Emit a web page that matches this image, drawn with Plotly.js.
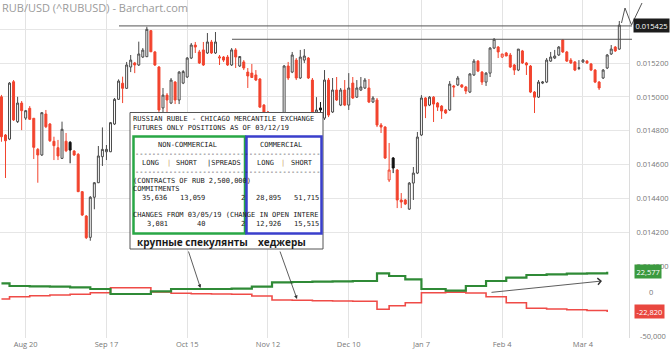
<!DOCTYPE html>
<html><head><meta charset="utf-8">
<script src="https://cdn.plot.ly/plotly-3.0.1.min.js"></script>
<style>html,body{margin:0;padding:0;background:#fff}#chart{width:670px;height:351px}</style>
</head><body><div id="chart"></div>
<script>
// ---------- data ----------
const firstDay = '2018-08-10', lastDay = '2019-03-15';
const holidays = ['2018-12-25', '2019-01-01'];
const tickDates = ['2018-08-20','2018-09-17','2018-10-15','2018-11-12','2018-12-10','2019-01-07','2019-02-04','2019-03-04'];

const open = [0.015001,0.014775,0.014751,0.015090,0.014854,0.014964,0.014875,0.014933,0.014874,0.014690,
0.014657,0.014899,0.014840,0.014738,0.014700,0.014637,0.014738,0.014732,0.014680,0.014661,
0.014440,0.014296,0.014170,0.014407,0.014493,0.014647,0.014676,0.014676,0.014840,0.014986,
0.015081,0.015051,0.015177,0.015201,0.015189,0.015236,0.015238,0.015392,0.015266,0.015177,
0.014935,0.015011,0.014964,0.015088,0.014982,0.015082,0.015118,0.015230,0.015307,0.015266,
0.015278,0.015260,0.015325,0.015260,0.015230,0.015236,0.015236,0.015189,0.015278,0.015183,
0.015207,0.015147,0.015141,0.015130,0.015106,0.014952,0.014911,0.014757,0.014686,0.014775,
0.014834,0.015183,0.015147,0.015218,0.015112,0.015218,0.015230,0.015100,0.014834,0.014935,
0.014875,0.015100,0.014911,0.015041,0.014952,0.015041,0.014952,0.015082,0.014999,0.015041,
0.015053,0.015053,0.014970,0.014982,0.014834,0.014822,0.014509,0.014639,0.014568,0.014391,
0.014391,0.014337,0.014491,0.014550,0.014775,0.014994,0.014952,0.014999,0.014964,0.014946,
0.014923,0.014923,0.015065,0.015071,0.015071,0.015059,0.015029,0.015130,0.015212,0.015147,
0.015088,0.015141,0.015289,0.015295,0.015236,0.015260,0.015248,0.015189,0.015159,0.015272,
0.015201,0.015183,0.015029,0.014999,0.015082,0.015088,0.015212,0.015230,0.015248,0.015337,
0.015266,0.015218,0.015207,0.015169,0.015207,0.015212,0.015195,0.015159,0.015088,0.015112,
0.015171,0.015254,0.015295,0.015283];
const high = [0.015012,0.014781,0.015088,0.015100,0.015001,0.014976,0.014923,0.014946,0.014875,0.014698,
0.014911,0.014923,0.014846,0.014765,0.014746,0.014854,0.014787,0.014739,0.014686,0.014668,
0.014444,0.014302,0.014414,0.014497,0.014710,0.014820,0.014716,0.014852,0.014994,0.015104,
0.015120,0.015207,0.015248,0.015207,0.015327,0.015289,0.015415,0.015396,0.015272,0.015183,
0.015053,0.015023,0.015112,0.015094,0.015153,0.015159,0.015236,0.015319,0.015325,0.015278,
0.015325,0.015378,0.015337,0.015384,0.015248,0.015242,0.015248,0.015289,0.015289,0.015242,
0.015218,0.015171,0.015195,0.015159,0.015112,0.014958,0.014917,0.014775,0.014787,0.014875,
0.015189,0.015207,0.015266,0.015230,0.015278,0.015283,0.015236,0.015112,0.014999,0.014970,
0.015159,0.015112,0.015112,0.015118,0.015053,0.015100,0.015141,0.015118,0.015100,0.015118,
0.015112,0.015106,0.015005,0.014994,0.014846,0.014828,0.014728,0.014645,0.014574,0.014432,
0.014397,0.014497,0.014586,0.014793,0.015011,0.014999,0.015005,0.015005,0.014970,0.014952,
0.014929,0.015094,0.015071,0.015124,0.015076,0.015065,0.015141,0.015224,0.015218,0.015153,
0.015147,0.015295,0.015348,0.015301,0.015254,0.015266,0.015260,0.015195,0.015283,0.015278,
0.015207,0.015189,0.015035,0.015100,0.015094,0.015230,0.015266,0.015278,0.015301,0.015342,
0.015272,0.015230,0.015212,0.015218,0.015224,0.015218,0.015201,0.015165,0.015094,0.015165,
0.015254,0.015307,0.015301,0.015449];
const low = [0.014735,0.014521,0.014745,0.014858,0.014846,0.014804,0.014864,0.014864,0.014633,0.014493,
0.014651,0.014816,0.014734,0.014627,0.014627,0.014633,0.014674,0.014608,0.014651,0.014438,
0.014296,0.014160,0.014150,0.014336,0.014491,0.014592,0.014627,0.014674,0.014834,0.014982,
0.014964,0.015047,0.015147,0.015141,0.015183,0.015230,0.015236,0.015266,0.015183,0.014911,
0.014893,0.014905,0.014958,0.014958,0.014958,0.015076,0.015112,0.015224,0.015260,0.015195,
0.015183,0.015254,0.015254,0.015254,0.015189,0.015207,0.015183,0.015183,0.015171,0.015177,
0.015159,0.015053,0.015112,0.015094,0.014935,0.014905,0.014734,0.014674,0.014668,0.014763,
0.014822,0.015100,0.015141,0.015100,0.015106,0.015201,0.015106,0.014816,0.014822,0.014875,
0.014864,0.014881,0.014905,0.014976,0.014946,0.014946,0.014923,0.014988,0.014994,0.015035,
0.015047,0.014964,0.014964,0.014822,0.014787,0.014633,0.014497,0.014550,0.014343,0.014343,
0.014361,0.014332,0.014391,0.014544,0.014769,0.014875,0.014946,0.014852,0.014917,0.014870,
0.014899,0.014917,0.014999,0.015065,0.015053,0.015017,0.015023,0.015124,0.015147,0.015071,
0.015065,0.015118,0.015283,0.015230,0.015230,0.015242,0.015171,0.015130,0.015153,0.015195,
0.015130,0.015023,0.014905,0.014994,0.015076,0.015082,0.015207,0.015224,0.015242,0.015260,
0.015207,0.015195,0.015153,0.015159,0.015201,0.015195,0.015153,0.015082,0.015041,0.015106,
0.015165,0.015248,0.015266,0.015278];
const close = [0.014765,0.014741,0.015082,0.014864,0.014964,0.014919,0.014919,0.014868,0.014702,0.014657,
0.014907,0.014824,0.014741,0.014712,0.014651,0.014809,0.014682,0.014686,0.014657,0.014440,
0.014302,0.014168,0.014407,0.014493,0.014651,0.014690,0.014690,0.014848,0.014986,0.015094,
0.015051,0.015189,0.015218,0.015189,0.015254,0.015277,0.015400,0.015267,0.015189,0.014923,
0.015011,0.014982,0.015100,0.014982,0.015147,0.015150,0.015230,0.015307,0.015295,0.015201,
0.015189,0.015325,0.015260,0.015325,0.015236,0.015218,0.015189,0.015278,0.015236,0.015239,
0.015171,0.015124,0.015115,0.015100,0.014940,0.014911,0.014746,0.014686,0.014775,0.014852,
0.015183,0.015112,0.015248,0.015112,0.015236,0.015242,0.015112,0.014834,0.014923,0.014923,
0.015100,0.014893,0.015041,0.014982,0.015041,0.014952,0.015053,0.014994,0.015053,0.015059,
0.015100,0.014970,0.014994,0.014834,0.014822,0.014639,0.014568,0.014580,0.014391,0.014379,
0.014367,0.014491,0.014550,0.014763,0.014994,0.014946,0.014999,0.014958,0.014940,0.014917,
0.014905,0.015076,0.015059,0.015112,0.015059,0.015035,0.015136,0.015212,0.015153,0.015088,
0.015141,0.015289,0.015341,0.015266,0.015254,0.015242,0.015177,0.015159,0.015283,0.015201,
0.015189,0.015029,0.014999,0.015088,0.015088,0.015218,0.015236,0.015242,0.015295,0.015266,
0.015212,0.015201,0.015159,0.015172,0.015218,0.015201,0.015159,0.015088,0.015053,0.015159,
0.015248,0.015283,0.015272,0.015425];

// CFTC COT net positions (contracts)
const cotDates = ['2018-08-10','2018-08-14','2018-08-21','2018-08-28','2018-09-04','2018-09-11','2018-09-18','2018-09-25',
'2018-10-02','2018-10-09','2018-10-16','2018-10-23','2018-10-30','2018-11-06','2018-11-13','2018-11-20','2018-11-27',
'2018-12-04','2018-12-11','2018-12-19','2018-12-24','2018-12-31','2019-01-07','2019-01-15','2019-01-22','2019-01-29',
'2019-02-05','2019-02-12','2019-02-19','2019-02-26','2019-03-05','2019-03-12'];
const netNonCommercial = [9481,6434,6095,5644,4966,3047,-2596,-2596,400,3047,3047,3047,3386,5644,10610,10948,11287,
11738,12077,20768,17720,13996,3047,1129,6434,12077,15802,18849,19639,20317,20768,22577];
const netCommercial = [-8240,-5644,-4515,-3725,-2935,-1129,4515,4515,-400,-1806,-2257,-2596,-2935,-4853,-9368,-9707,-10158,
-10497,-10836,-19865,-15802,-12416,-1129,-500,-1467,-5644,-12416,-18736,-19527,-20317,-21220,-22820];

const priceTicks = [0.0140,0.0142,0.0144,0.0146,0.0148,0.0150,0.0152,0.0154];
const resistance1 = 0.015420, resistance2 = 0.015341;

// COT table text
const cotTitle1 = 'RUSSIAN RUBLE - CHICAGO MERCANTILE EXCHANGE';
const cotTitle2 = 'FUTURES ONLY POSITIONS AS OF 03/12/19';
const ncLong = '35,636', ncShort = '13,059', ncSpreads = '2', cLong = '28,895', cShort = '51,715';
const chNcLong = '3,081', chNcShort = '40', chNcSpreads = '2', chCLong = '12,926', chCShort = '15,515';

// ---------- build ----------
function tradingDays(){
  const out = []; const d = new Date(firstDay + 'T00:00:00Z'); const end = new Date(lastDay + 'T00:00:00Z');
  while (d <= end) {
    const s = d.toISOString().slice(0,10); const wd = d.getUTCDay();
    if (wd !== 0 && wd !== 6 && holidays.indexOf(s) < 0) out.push(s + ' 12:00');
    d.setUTCDate(d.getUTCDate() + 1);
  }
  return out;
}
const dates = tradingDays();

const RED = '#f2432d', GRAY = '#4a4a4a';
const cls = close.map((c, i) => {
  const prev = i > 0 ? close[i-1] : open[i];
  const up = c >= open[i]; const lower = c < prev;
  return up ? (lower ? 'hr' : 'hg') : (lower ? 'fr' : 'fk');
});
const styles = {hg:{line:GRAY, fill:'#ffffff'}, hr:{line:RED, fill:'#ffffff'}, fr:{line:RED, fill:RED}, fk:{line:'#111', fill:'#111'}};
const traces = [];
Object.keys(styles).forEach(k => {
  const idx = cls.map((c,i)=> c===k ? i : -1).filter(i => i >= 0);
  if (!idx.length) return;
  const st = {line:{color:styles[k].line, width:1}, fillcolor:styles[k].fill};
  traces.push({type:'candlestick', xaxis:'x', yaxis:'y',
    x: idx.map(i=>dates[i]), open: idx.map(i=>open[i]), high: idx.map(i=>high[i]),
    low: idx.map(i=>low[i]), close: idx.map(i=>close[i]),
    increasing: st, decreasing: st, whiskerwidth: 0, hoverinfo:'skip', showlegend:false});
});
const cotX = cotDates.map(d => d + ' 12:00');
traces.push({type:'scatter', mode:'lines', xaxis:'x', yaxis:'y2', x: cotX, y: netCommercial,
  line:{color:'#ef4b47', width:1.6, shape:'hv'}, hoverinfo:'skip', showlegend:false});
traces.push({type:'scatter', mode:'lines', xaxis:'x', yaxis:'y2', x: cotX, y: netNonCommercial,
  line:{color:'#2f8a36', width:2.2, shape:'hv'}, hoverinfo:'skip', showlegend:false});

const W = 629, H = 338;
const fx = px => px / W, fy = py => 1 - py / H;
const MONO = 'DejaVu Sans Mono, monospace';
function t(s, x, y, o) {
  return Object.assign({xref:'paper', yref:'paper', x:fx(x), y:fy(y), text:s, showarrow:false,
    xanchor:'left', yanchor:'middle', borderpad:0, font:{family:MONO, size:7, color:'#222'}}, o || {});
}
const dash = '-'.repeat(44);
const ann = [
  {xref:'paper', yref:'paper', x:fx(1), y:fy(7.5), text:'RUB/USD (^RUBUSD) - Barchart.com', showarrow:false,
    xanchor:'left', yanchor:'middle', borderpad:0, font:{family:'Open Sans', size:11, color:'#9a9a9a'}},
  t(cotTitle1, 132, 118.5), t(cotTitle2, 132, 127.5),
  t('NON-COMMERCIAL', 157, 144.5), t('COMMERCIAL', 259, 144.5),
  t(dash, 134, 153.5), t(dash, 134, 172),
  t('LONG', 141, 162.5), t('|', 166, 162.5, {font:{family:MONO, size:7, color:'#c9a25a'}}), t('SHORT', 175, 162.5), t('|SPREADS', 206, 162.5),
  t('LONG', 256, 162.5), t('|', 280, 162.5, {font:{family:MONO, size:7, color:'#c9a25a'}}), t('SHORT', 290, 162.5),
  t('(CONTRACTS OF RUB 2,500,000)', 132, 180.5), t('COMMITMENTS', 132, 188.5),
  t(ncLong, 141, 197.5), t(ncShort, 179, 197.5), t(ncSpreads, 240, 197.5), t(cLong, 254.5, 197.5), t(cShort, 292.5, 197.5),
  t('CHANGES FROM 03/05/19 (CHANGE IN OPEN INTERE', 132, 214.5),
  t(chNcLong, 145.5, 223.5), t(chNcShort, 196, 223.5), t(chNcSpreads, 240, 223.5), t(chCLong, 254.5, 223.5), t(chCShort, 292.5, 223.5),
  {xref:'paper', yref:'paper', x:fx(136), y:fy(242), text:'крупные спекулянты', showarrow:false, xanchor:'left', yanchor:'middle',
    borderpad:0, font:{family:'Open Sans', size:10, color:'#1a1a1a', weight:700}},
  {xref:'paper', yref:'paper', x:fx(257), y:fy(242), text:'хеджеры', showarrow:false, xanchor:'left', yanchor:'middle',
    borderpad:0, font:{family:'Open Sans', size:10, color:'#1a1a1a', weight:700}},
  // arrows
  {xref:'paper', yref:'paper', x:fx(200.5), y:fy(288), ax:-12.5, ay:-38, text:'', showarrow:true, arrowhead:2, arrowsize:0.9, arrowwidth:0.8, arrowcolor:'#333'},
  {xref:'paper', yref:'paper', x:fx(297), y:fy(299), ax:-17.5, ay:-49, text:'', showarrow:true, arrowhead:2, arrowsize:0.9, arrowwidth:0.8, arrowcolor:'#333'},
  {xref:'paper', yref:'paper', x:fx(602), y:fy(281), ax:-112, ay:11.5, text:'', showarrow:true, arrowhead:4, arrowsize:1.6, arrowwidth:0.8, arrowcolor:'#333'},
  // right-hand value labels
  {xref:'paper', yref:'y', x:fx(633), y:close[close.length-1], text:close[close.length-1].toFixed(6), showarrow:false,
    xanchor:'left', yanchor:'middle', bgcolor:'#1c1c1c', borderpad:1.5, font:{family:'Open Sans', size:7.5, color:'#fff'}},
  {xref:'paper', yref:'y2', x:fx(651), y:0, text:'0', showarrow:false, xanchor:'center', yanchor:'middle',
    font:{family:'Open Sans', size:7.5, color:'#777'}},
  {xref:'paper', yref:'y2', x:fx(653), y:-50000, text:'-50,000', showarrow:false, xanchor:'center', yanchor:'middle',
    font:{family:'Open Sans', size:7.5, color:'#777'}},
  {xref:'paper', yref:'y2', x:fx(634), y:netNonCommercial[netNonCommercial.length-1],
    text:netNonCommercial[netNonCommercial.length-1].toLocaleString('en-US'), showarrow:false,
    xanchor:'left', yanchor:'middle', bgcolor:'#3b9a3f', borderpad:1.5, font:{family:'Open Sans', size:7.5, color:'#fff'}},
  {xref:'paper', yref:'y2', x:fx(634), y:netCommercial[netCommercial.length-1],
    text:netCommercial[netCommercial.length-1].toLocaleString('en-US'), showarrow:false,
    xanchor:'left', yanchor:'middle', bgcolor:'#e9473f', borderpad:1.5, font:{family:'Open Sans', size:7.5, color:'#fff'}}
];

const shapes = [
  {type:'line', xref:'paper', yref:'y', x0:fx(119), x1:fx(632), y0:resistance1, y1:resistance1, line:{color:'#555', width:1}},
  {type:'line', xref:'paper', yref:'y', x0:fx(232), x1:fx(632), y0:resistance2, y1:resistance2, line:{color:'#555', width:1}},
  {type:'path', xref:'paper', yref:'paper', path:'M'+fx(621.5)+','+fy(23)+' L'+fx(625)+','+fy(8)+' L'+fx(631.5)+','+fy(25)+' L'+fx(642)+','+fy(3),
    line:{color:'#555', width:1}},
  {type:'line', xref:'paper', yref:'y2', x0:0, x1:1, y0:25000, y1:25000, line:{color:'#e4e4e4', width:1}, layer:'below'},
  {type:'line', xref:'paper', yref:'y2', x0:0, x1:1, y0:-25000, y1:-25000, line:{color:'#e4e4e4', width:1}, layer:'below'},
  // COT table box
  {type:'rect', xref:'paper', yref:'paper', x0:fx(130), x1:fx(323), y0:fy(112.5), y1:fy(249), fillcolor:'#fff', line:{color:'#555', width:1}},
  {type:'rect', xref:'paper', yref:'paper', x0:fx(133.5), x1:fx(245), y0:fy(136.5), y1:fy(233.5), line:{color:'#28a745', width:2.5}},
  {type:'rect', xref:'paper', yref:'paper', x0:fx(246.5), x1:fx(321.5), y0:fy(136.5), y1:fy(233.5), line:{color:'#3a3fcc', width:2.5}}
];

const layout = {
  width:670, height:351, margin:{l:0, r:41, t:0, b:13},
  paper_bgcolor:'#fff', plot_bgcolor:'#fff', showlegend:false,
  font:{family:'Open Sans', size:7.5, color:'#777'},
  xaxis:{type:'date', anchor:'y2', range:['2018-08-10 03:21','2019-03-19 21:36'],
    rangebreaks:[{bounds:['sat','mon']}, {values:holidays}],
    tickvals: tickDates.map(d => d + ' 12:00'), tickformat:'%b %-d', ticks:'',
    showgrid:true, gridcolor:'#e3e3e3', gridwidth:1, zeroline:false, showline:false,
    rangeslider:{visible:false}, tickfont:{family:'Open Sans', size:7.5, color:'#777'}, fixedrange:true},
  yaxis:{domain:[fy(270), 1], range:[0.0139770, 0.0155732], side:'right', tickvals:priceTicks, tickformat:'.6f',
    ticks:'', ticklabelstandoff:5, showgrid:true, gridcolor:'#e6e6e6', zeroline:false, showline:true, linecolor:'#dcdcdc',
    tickfont:{family:'Open Sans', size:7.5, color:'#777'}, fixedrange:true},
  yaxis2:{domain:[0, fy(250)], range:[-52259, 47067], side:'right', showticklabels:false, ticks:'', showgrid:false,
    zeroline:false, showline:true, linecolor:'#dcdcdc', fixedrange:true},
  shapes: shapes, annotations: ann
};
Plotly.newPlot('chart', traces, layout, {displayModeBar:false, staticPlot:true});
</script>
</body></html>
